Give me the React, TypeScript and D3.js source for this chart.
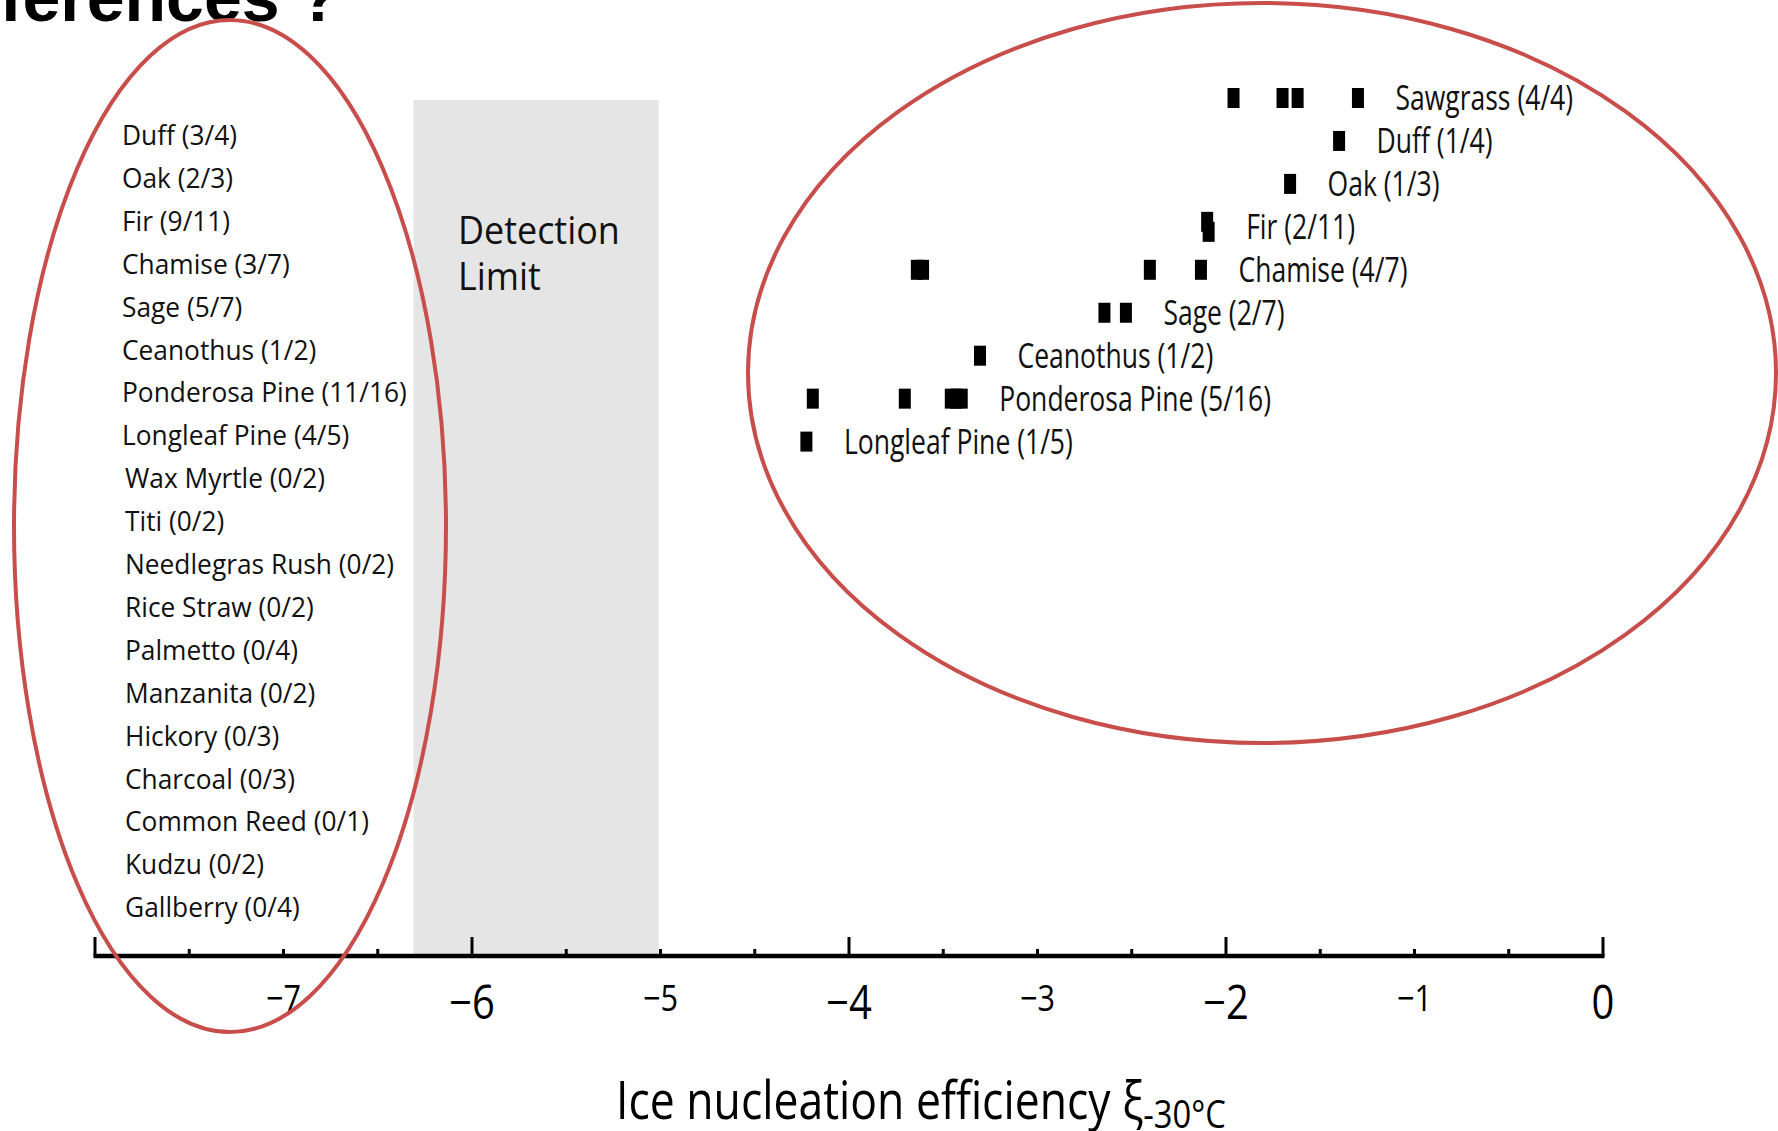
import React from "react";
import * as d3 from "d3";

const W = 1778;
const H = 1131;

// Fuel types with samples at or below the detection limit (count below / total)
const belowTypes = [
  "Duff", "Oak", "Fir", "Chamise", "Sage", "Ceanothus", "Ponderosa Pine",
  "Longleaf Pine", "Wax Myrtle", "Titi", "Needlegras Rush", "Rice Straw",
  "Palmetto", "Manzanita", "Hickory", "Charcoal", "Common Reed", "Kudzu", "Gallberry",
];
const belowCounts = [
  "3/4", "2/3", "9/11", "3/7", "5/7", "1/2", "11/16", "4/5", "0/2", "0/2",
  "0/2", "0/2", "0/4", "0/2", "0/3", "0/3", "0/1", "0/2", "0/4",
];

// Fuel types with samples above the detection limit (count above / total)
const detectedTypes = [
  "Sawgrass", "Duff", "Oak", "Fir", "Chamise", "Sage", "Ceanothus",
  "Ponderosa Pine", "Longleaf Pine",
];
const detectedCounts = ["4/4", "1/4", "1/3", "2/11", "4/7", "2/7", "1/2", "5/16", "1/5"];

// Ice nucleation efficiency at -30 °C (log10) for each detected sample
const sawgrassXi = [-1.96, -1.7, -1.62, -1.3];
const duffXi = [-1.4];
const oakXi = [-1.66];
const firXi = [-2.1, -2.092];
const chamiseXi = [-3.64, -3.607, -2.404, -2.133];
const sageXi = [-2.645, -2.531];
const ceanothusXi = [-3.305];
const ponderosaXi = [-4.192, -3.704, -3.46, -3.431, -3.402];
const longleafXi = [-4.226];
const detectedXi = [
  sawgrassXi, duffXi, oakXi, firXi, chamiseXi, sageXi, ceanothusXi, ponderosaXi, longleafXi,
];

// Axis and shaded band
const xDomain = [-8, 0];
const tickLabels = [-7, -6, -5, -4, -3, -2, -1, 0];
const detectionLimit = [-6.31, -5.01];

const FONT = "'Open Sans', 'Noto Sans', sans-serif";
const RED = "#c84e4b";

export default function App() {
  const x = d3.scaleLinear().domain(xDomain).range([95, 1603]);
  const yRight = d3.scalePoint<string>().domain(detectedTypes).range([98, 98 + 8 * 42.95]);
  const yLeft = d3.scalePoint<string>().domain(belowTypes).range([135, 135 + 18 * 42.9]);
  const axisY = 956;
  const ticks = d3.range(xDomain[0], xDomain[1] + 0.001, 0.5);
  const isMajor = (v: number) => Math.abs(v % 2) < 1e-6;
  const fmt = d3.format("d");

  const markW = 12;
  const markH = 20;

  return (
    <svg
      width={W}
      height={H}
      viewBox={`0 0 ${W} ${H}`}
      style={{ position: "absolute", left: 0, top: 0, background: "#fff" }}
    >
      <rect x={0} y={0} width={W} height={H} fill="#fff" />

      {/* slide heading, partly above the top edge */}
      <text
        x={340}
        y={21}
        textAnchor="end"
        fontFamily="'Liberation Sans', Arial, sans-serif"
        fontWeight="bold"
        fontSize={68}
        fill="#000"
      >
        Differences ?
      </text>

      {/* detection limit band */}
      <rect
        x={x(detectionLimit[0])}
        y={100}
        width={x(detectionLimit[1]) - x(detectionLimit[0])}
        height={axisY - 100}
        fill="#e6e5e6"
      />
      <g fontFamily={FONT} fontSize={38} fill="#111">
        <text transform={`translate(458,244) scale(0.945,1)`}>Detection</text>
        <text transform={`translate(458,290) scale(0.945,1)`}>Limit</text>
      </g>

      {/* types with no measurable activity */}
      <g fontFamily={FONT} fontSize={27} fill="#111">
        {belowTypes.map((t, i) => (
          <text
            key={t}
            transform={`translate(${i < 8 ? 122 : 125},${(yLeft(t) as number) + 10}) scale(0.975,1)`}
          >
            {`${t} (${belowCounts[i]})`}
          </text>
        ))}
      </g>

      {/* measured samples */}
      <g>
        {detectedTypes.map((t, i) => {
          const yc = yRight(t) as number;
          const vals = detectedXi[i];
          return (
            <g key={t}>
              {vals.map((v, j) => {
                // nudge nearly coincident marks apart vertically
                const near = vals.some((w, k) => k !== j && Math.abs(x(w) - x(v)) < 3);
                const dy = near ? (j % 2 === 0 ? -5 : 5) : 0;
                return (
                  <rect
                    key={j}
                    x={x(v) - markW / 2}
                    y={yc - markH / 2 + dy}
                    width={markW}
                    height={markH}
                    fill="#000"
                  />
                );
              })}
              <text
                transform={`translate(${x(d3.max(vals) as number) + 37.5},${yc + 12}) scale(0.78,1)`}
                fontFamily={FONT}
                fontSize={34}
                fill="#111"
              >
                {`${t} (${detectedCounts[i]})`}
              </text>
            </g>
          );
        })}
      </g>

      {/* x axis */}
      <g stroke="#000" strokeWidth={3}>
        <line x1={x(xDomain[0]) - 1.5} x2={x(xDomain[1]) + 1.5} y1={axisY} y2={axisY} strokeWidth={4.5} />
        {ticks.map((v) => (
          <line
            key={v}
            x1={x(v)}
            x2={x(v)}
            y1={axisY}
            y2={axisY - (isMajor(v) ? 19 : 7)}
          />
        ))}
      </g>
      <g fontFamily={FONT} fill="#000" textAnchor="middle">
        {tickLabels.map((v) => (
          <text
            key={v}
            transform={`translate(${x(v)},${isMajor(v) ? 1019 : 1011}) scale(0.85,1)`}
            fontSize={isMajor(v) ? 47 : 36}
          >
            {fmt(v)}
          </text>
        ))}
      </g>

      {/* axis title */}
      <text
        transform="translate(616,1119) scale(0.84,1)"
        fontFamily={FONT}
        fontSize={53}
        fill="#000"
      >
        Ice nucleation efficiency ξ
        <tspan fontSize={39} dy={9}>-30°C</tspan>
      </text>

      {/* highlight ellipses */}
      <ellipse cx={230} cy={526} rx={216} ry={506} fill="none" stroke={RED} strokeWidth={4} />
      <ellipse cx={1262} cy={373} rx={514} ry={370} fill="none" stroke={RED} strokeWidth={4} />
    </svg>
  );
}
